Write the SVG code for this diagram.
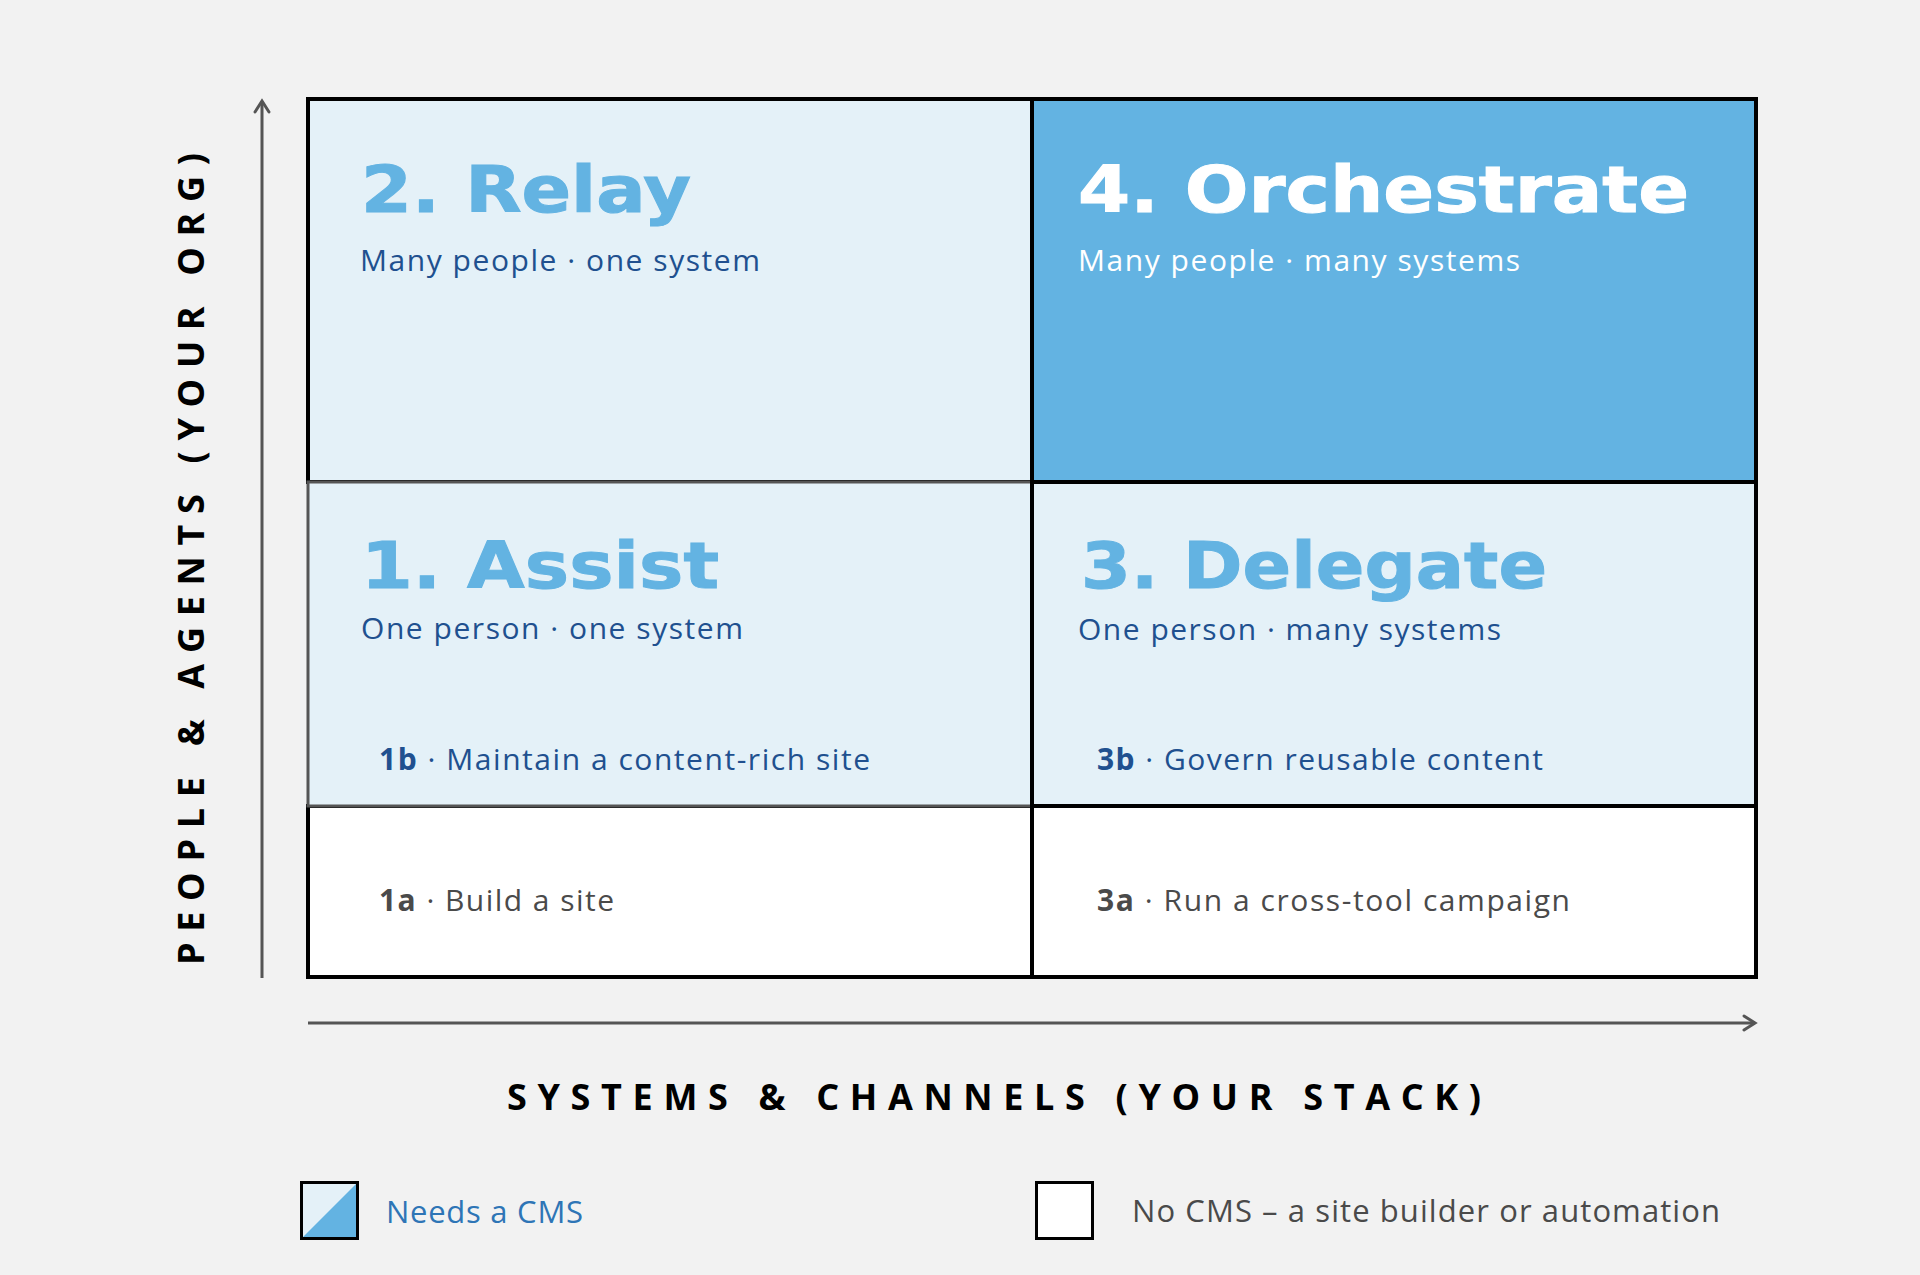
<svg xmlns="http://www.w3.org/2000/svg" width="1920" height="1275" viewBox="0 0 1920 1275">
  <defs>
    <style>
      .bg { fill: #F2F2F2; }
      .light { fill: #E4F1F8; }
      .dark { fill: #63B3E2; }
      .white { fill: #FFFFFF; }
      .edge { stroke: #000000; stroke-width: 4; }
      .edge-g { stroke: #555555; stroke-width: 3; }
      .title { font-family: "DejaVu Sans", "Liberation Sans", sans-serif; font-weight: 700; font-size: 64px; fill: #63B3E2; stroke: #63B3E2; stroke-width: 1; }
      .title-inv { fill: #FFFFFF; stroke: #FFFFFF; }
      .sub { font-family: "Open Sans", "Noto Sans", sans-serif; font-size: 30px; fill: #20508F; }
      .sub-inv { fill: #FFFFFF; }
      .item { font-family: "Open Sans", "Noto Sans", sans-serif; font-size: 30px; fill: #20508F; }
      .item-g { fill: #4A4A4A; }
      .b { font-weight: 700; }
      .axis { stroke: #555555; stroke-width: 3; fill: none; }
      .axis-label { font-family: "Open Sans", "Noto Sans", sans-serif; font-weight: 700; font-size: 36px; fill: #000000; }
      .legend { font-family: "Open Sans", "Noto Sans", sans-serif; font-size: 31px; }
    </style>
    <marker id="chev" viewBox="-2 -2 18 18" markerWidth="18" markerHeight="18" refX="12" refY="7" markerUnits="userSpaceOnUse" orient="auto">
      <path d="M1,0 L12,7 L1,14" fill="none" stroke="#555555" stroke-width="3" stroke-linecap="round" stroke-linejoin="miter"/>
    </marker>
  </defs>

  <rect class="bg" x="0" y="0" width="1920" height="1275"/>

  <g id="relay">
    <rect class="light edge" x="308" y="99" width="724" height="383"/>
    <text class="title" x="361" y="212" textLength="330" lengthAdjust="spacingAndGlyphs">2. Relay</text>
    <text class="sub" x="360" y="271" textLength="400" lengthAdjust="spacing">Many people · one system</text>
  </g>

  <g id="orchestrate">
    <rect class="dark edge" x="1032" y="99" width="724" height="383"/>
    <text class="title title-inv" x="1078" y="212" textLength="611" lengthAdjust="spacingAndGlyphs">4. Orchestrate</text>
    <text class="sub sub-inv" x="1078" y="271" textLength="442" lengthAdjust="spacing">Many people · many systems</text>
  </g>

  <g id="build-site">
    <rect class="white edge" x="308" y="806" width="724" height="171"/>
    <text class="item item-g" x="379" y="911" textLength="235" lengthAdjust="spacing"><tspan class="b">1a</tspan> · Build a site</text>
  </g>

  <g id="campaign">
    <rect class="white edge" x="1032" y="806" width="724" height="171"/>
    <text class="item item-g" x="1097" y="911" textLength="473" lengthAdjust="spacing"><tspan class="b">3a</tspan> · Run a cross-tool campaign</text>
  </g>

  <g id="assist">
    <rect class="light edge-g" x="308" y="482" width="724" height="324"/>
    <text class="title" x="361" y="588" textLength="358" lengthAdjust="spacingAndGlyphs">1. Assist</text>
    <text class="sub" x="361" y="639" textLength="382" lengthAdjust="spacing">One person · one system</text>
    <text class="item" x="379" y="770" textLength="491" lengthAdjust="spacing"><tspan class="b">1b</tspan> · Maintain a content-rich site</text>
  </g>

  <g id="delegate">
    <rect class="light edge" x="1032" y="482" width="724" height="324"/>
    <text class="title" x="1081" y="588" textLength="466" lengthAdjust="spacingAndGlyphs">3. Delegate</text>
    <text class="sub" x="1078" y="640" textLength="423" lengthAdjust="spacing">One person · many systems</text>
    <text class="item" x="1097" y="770" textLength="446" lengthAdjust="spacing"><tspan class="b">3b</tspan> · Govern reusable content</text>
  </g>

  <g id="connectors">
    <line class="axis" x1="262" y1="978" x2="262" y2="101" marker-end="url(#chev)"/>
    <line class="axis" x1="308" y1="1023" x2="1755" y2="1023" marker-end="url(#chev)"/>
  </g>

  <g id="axis-labels">
    <text class="axis-label" transform="translate(204,965) rotate(-90)" x="0" y="0" textLength="812" lengthAdjust="spacing">PEOPLE &amp; AGENTS (YOUR ORG)</text>
    <text class="axis-label" x="507" y="1110" textLength="974" lengthAdjust="spacing">SYSTEMS &amp; CHANNELS (YOUR STACK)</text>
  </g>

  <g id="legend-cms">
    <rect class="light" x="301.5" y="1182.5" width="56" height="56"/>
    <polygon class="dark" points="357.5,1182.5 357.5,1238.5 301.5,1238.5"/>
    <rect x="301.5" y="1182.5" width="56" height="56" fill="none" stroke="#000" stroke-width="3"/>
    <text class="legend" x="386" y="1223" fill="#2E75B6" textLength="197" lengthAdjust="spacing">Needs a CMS</text>
  </g>

  <g id="legend-nocms">
    <rect class="white" x="1036.5" y="1182.5" width="56" height="56" stroke="#000" stroke-width="3"/>
    <text class="legend" x="1132" y="1222" fill="#4A4A4A" textLength="588" lengthAdjust="spacing">No CMS – a site builder or automation</text>
  </g>
</svg>
